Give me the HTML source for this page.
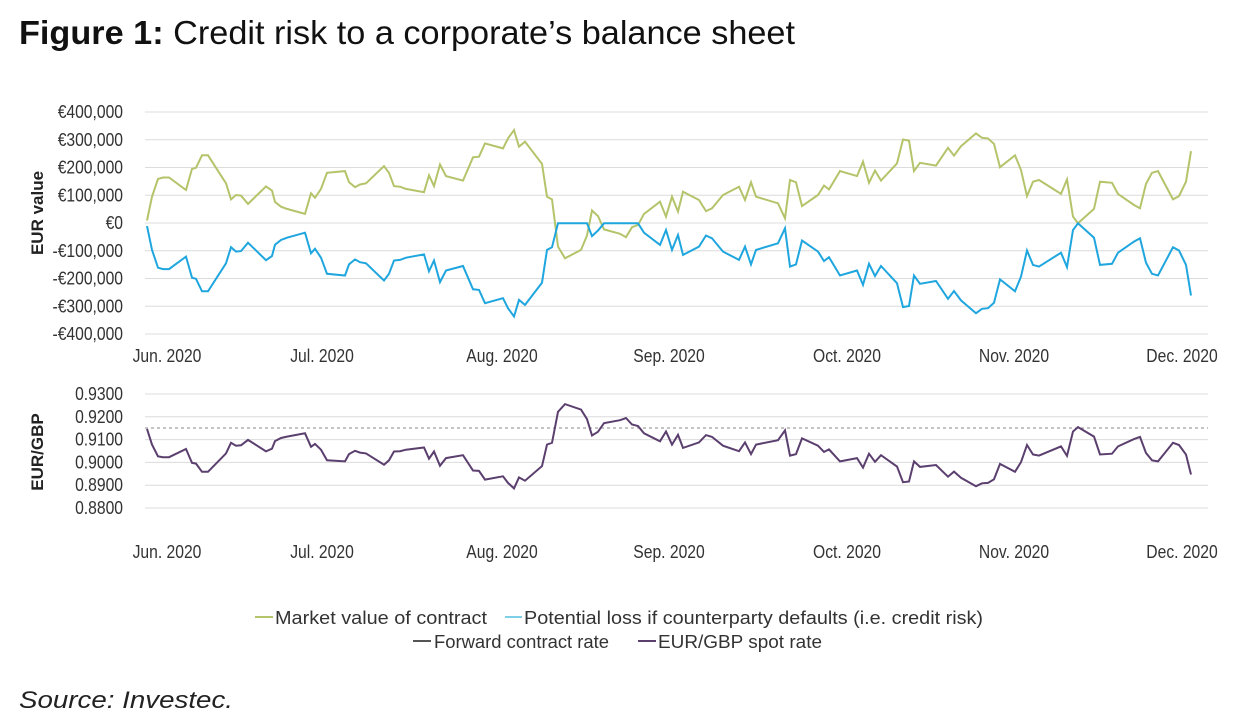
<!DOCTYPE html>
<html><head><meta charset="utf-8">
<style>
body{margin:0;background:#fff;width:1245px;height:723px;overflow:hidden}
svg{display:block}
.t{font-family:"Liberation Sans Narrow","Liberation Sans",sans-serif;font-size:18px;fill:#333}
.lg{font-family:"Liberation Sans",sans-serif;font-size:18.5px;fill:#333}
</style></head><body>
<svg id="s" width="1245" height="723" xmlns="http://www.w3.org/2000/svg">
<text x="19" y="44" textLength="776" lengthAdjust="spacingAndGlyphs" style="font-family:'Liberation Sans',sans-serif;font-size:33px;fill:#111"><tspan font-weight="bold">Figure 1:</tspan> Credit risk to a corporate’s balance sheet</text>
<g id="grid" stroke="#dcdcdc" stroke-width="1"></g>
<line x1="145" x2="1208" y1="428" y2="428" stroke="#888" stroke-dasharray="3,3"/>
<g id="labels"></g>
<text transform="translate(43,213) rotate(-90)" text-anchor="middle" style="font-family:'Liberation Sans',sans-serif;font-size:17px;font-weight:bold;fill:#222">EUR value</text>
<text transform="translate(43,452) rotate(-90)" text-anchor="middle" style="font-family:'Liberation Sans',sans-serif;font-size:17px;font-weight:bold;fill:#222">EUR/GBP</text>
<path id="g" fill="none" stroke="#b4c46a" stroke-width="2"/>
<path id="b" fill="none" stroke="#1fa6de" stroke-width="2"/>
<path id="p" fill="none" stroke="#5b3f6e" stroke-width="2"/>
<line x1="255" x2="273" y1="617" y2="617" stroke="#b4c46a" stroke-width="2"/>
<text class="lg" x="275" y="624" textLength="212" lengthAdjust="spacingAndGlyphs">Market value of contract</text>
<line x1="505" x2="522" y1="617" y2="617" stroke="#7fd0e6" stroke-width="2"/>
<text class="lg" x="524" y="624" textLength="459" lengthAdjust="spacingAndGlyphs">Potential loss if counterparty defaults (i.e. credit risk)</text>
<line x1="413" x2="431" y1="641" y2="641" stroke="#555" stroke-width="2"/>
<text class="lg" x="434" y="648" textLength="175" lengthAdjust="spacingAndGlyphs">Forward contract rate</text>
<line x1="638" x2="656" y1="641" y2="641" stroke="#5b3f6e" stroke-width="2"/>
<text class="lg" x="658" y="648" textLength="164" lengthAdjust="spacingAndGlyphs">EUR/GBP spot rate</text>
<text x="19" y="708" textLength="214" lengthAdjust="spacingAndGlyphs" style="font-family:'Liberation Sans',sans-serif;font-size:24px;font-style:italic;fill:#222">Source: Investec.</text>
</svg>
<script>
var d=[[147,10],[152,96],[158,160],[163,165],[169,165],[186,120],[192,196],[196,200],[202,245],[208,245],[226,144],[231,86],[236,102],[241,100],[248,70],[266,133],[272,118],[275,77],[281,60],[287,52],[305,34],[311,108],[315,92],[321,124],[327,182],[345,188],[349,148],[355,130],[360,140],[366,144],[384,206],[389,182],[394,134],[400,132],[406,124],[424,112],[429,173],[434,134],[440,212],[446,170],[463,154],[473,238],[479,240],[485,288],[503,270],[508,306],[514,336],[519,276],[525,294],[542,214],[547,96],[552,86],[558,-84],[565,-126],[581,-96],[587,-44],[592,46],[598,26],[604,-22],[620,-38],[626,-50],[632,-14],[638,-6],[644,34],[660,78],[666,24],[672,96],[678,42],[683,114],[699,84],[706,44],[712,54],[723,102],[739,132],[745,84],[751,148],[756,96],[778,72],[785,18],[790,156],[796,148],[802,62],[818,102],[824,136],[829,122],[840,188],[857,170],[863,222],[869,146],[875,190],[881,154],[897,216],[903,302],[909,298],[914,188],[920,218],[936,208],[948,272],[954,244],[961,278],[976,324],[982,308],[988,306],[994,286],[1000,202],[1015,245],[1021,192],[1027,98],[1033,150],[1039,156],[1061,106],[1067,158],[1073,24],[1078,0],[1094,52],[1100,150],[1112,146],[1118,106],[1134,66],[1140,54],[1146,142],[1152,182],[1158,188],[1173,86],[1179,98],[1186,150],[1191,260]];
function P(f){return d.map(function(q,i){return (i?'L':'M')+q[0]+','+f(q[1]).toFixed(1)}).join('')}
document.getElementById('g').setAttribute('d',P(function(v){return 223.3-v*0.2775}));
document.getElementById('b').setAttribute('d',P(function(v){return 223.3+Math.max(v,0)*0.2775}));
document.getElementById('p').setAttribute('d',P(function(v){return 427.1+v*0.1824}));
var ns='http://www.w3.org/2000/svg',G=document.getElementById('grid'),L=document.getElementById('labels');
function ln(y){var e=document.createElementNS(ns,'line');e.setAttribute('x1',145);e.setAttribute('x2',1208);e.setAttribute('y1',y);e.setAttribute('y2',y);G.appendChild(e)}
function tx(x,y,s,a){var e=document.createElementNS(ns,'text');e.setAttribute('x',x);e.setAttribute('y',y);e.setAttribute('class','t');e.setAttribute('text-anchor',a);e.textContent=s;L.appendChild(e);
 var w=e.getComputedTextLength();if(w>0){e.setAttribute('textLength',(w*0.87).toFixed(1));e.setAttribute('lengthAdjust','spacingAndGlyphs')}}
var yl=['€400,000','€300,000','€200,000','€100,000','€0','-€100,000','-€200,000','-€300,000','-€400,000'];
for(var i=0;i<9;i++){var y=112+i*27.75;ln(y);tx(123,y+6,yl[i],'end')}
var bl=['0.9300','0.9200','0.9100','0.9000','0.8900','0.8800'];
for(i=0;i<6;i++){y=394+i*22.8;ln(y);tx(123,y+6,bl[i],'end')}
var m=[[167,'Jun. 2020'],[322,'Jul. 2020'],[502,'Aug. 2020'],[669,'Sep. 2020'],[847,'Oct. 2020'],[1014,'Nov. 2020'],[1182,'Dec. 2020']];
m.forEach(function(q){tx(q[0],362,q[1],'middle');tx(q[0],558,q[1],'middle')});
</script>
</body></html>
